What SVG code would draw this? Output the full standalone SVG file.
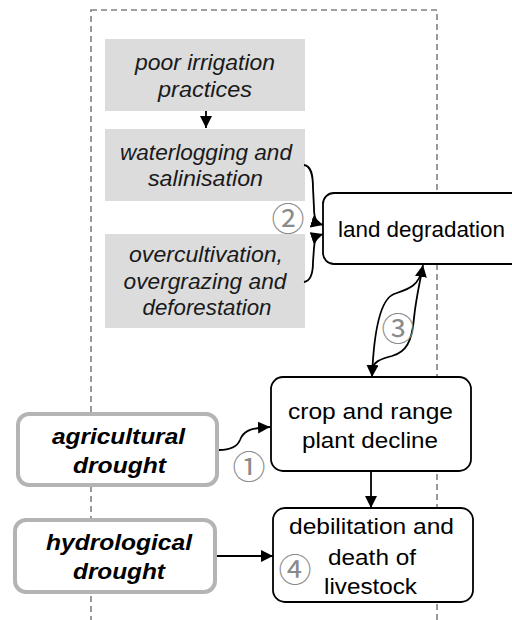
<svg xmlns="http://www.w3.org/2000/svg" width="512" height="620" viewBox="0 0 512 620">
  <style>
    .frame { fill: none; stroke: #808080; stroke-width: 1.6; stroke-dasharray: 6 4; }
    .cause { fill: #dcdcdc; stroke: none; }
    .effect { fill: #ffffff; stroke: #000000; stroke-width: 1.8; }
    .driver { fill: #ffffff; stroke: #b4b4b4; stroke-width: 4; }
    .it { font-family: "Liberation Sans", Arial, sans-serif; font-size: 22px; font-style: italic; fill: #1a1a1a; text-anchor: middle; }
    .bi { font-family: "Liberation Sans", Arial, sans-serif; font-size: 22px; font-style: italic; font-weight: bold; fill: #000; text-anchor: middle; }
    .rg { font-family: "Liberation Sans", Arial, sans-serif; font-size: 22px; fill: #000; text-anchor: middle; }
    .num { font-family: "Noto Sans CJK JP", "DejaVu Sans", sans-serif; font-size: 33px; fill: #8a8a8a; text-anchor: middle; }
    .conn { fill: none; stroke: #000; stroke-width: 1.8; }
  </style>
  <defs>
    <marker id="arrow" markerUnits="userSpaceOnUse" markerWidth="12" markerHeight="12" viewBox="0 0 10 10" refX="10" refY="5" orient="auto">
      <path d="M0,0 L10,5 L0,10 Z" fill="#000"/>
    </marker>
  </defs>

  <!-- dashed system boundary -->
  <rect class="frame" x="91" y="10" width="346" height="640"/>

  <g id="poor-irrigation">
    <rect class="cause" x="105" y="39" width="200" height="72"/>
    <text class="it" x="205" y="70" textLength="140" lengthAdjust="spacingAndGlyphs">poor irrigation</text>
    <text class="it" x="205" y="97" textLength="94" lengthAdjust="spacingAndGlyphs">practices</text>
  </g>

  <g id="waterlogging">
    <rect class="cause" x="105" y="129" width="200" height="72"/>
    <text class="it" x="206" y="160" textLength="172" lengthAdjust="spacingAndGlyphs">waterlogging and</text>
    <text class="it" x="205.5" y="186" textLength="115" lengthAdjust="spacingAndGlyphs">salinisation</text>
  </g>

  <g id="overcultivation">
    <rect class="cause" x="105" y="234" width="200" height="94"/>
    <text class="it" x="206" y="262" textLength="154" lengthAdjust="spacingAndGlyphs">overcultivation,</text>
    <text class="it" x="205" y="289" textLength="163" lengthAdjust="spacingAndGlyphs">overgrazing and</text>
    <text class="it" x="207" y="315" textLength="129" lengthAdjust="spacingAndGlyphs">deforestation</text>
  </g>

  <g id="land-degradation">
    <rect class="effect" x="323" y="193" width="210" height="71" rx="11"/>
    <text class="rg" x="421.5" y="237" textLength="167" lengthAdjust="spacingAndGlyphs">land degradation</text>
  </g>

  <g id="crop-decline">
    <rect class="effect" x="271" y="377" width="200" height="94" rx="12"/>
    <text class="rg" x="370.5" y="419" textLength="165" lengthAdjust="spacingAndGlyphs">crop and range</text>
    <text class="rg" x="370" y="448" textLength="136" lengthAdjust="spacingAndGlyphs">plant decline</text>
  </g>

  <g id="livestock">
    <rect class="effect" x="273" y="508" width="200" height="94" rx="12"/>
    <text class="rg" x="371.5" y="534" textLength="165" lengthAdjust="spacingAndGlyphs">debilitation and</text>
    <text class="rg" x="372" y="565" textLength="88" lengthAdjust="spacingAndGlyphs">death of</text>
    <text class="rg" x="370.5" y="594" textLength="93" lengthAdjust="spacingAndGlyphs">livestock</text>
  </g>

  <g id="agricultural-drought">
    <rect class="driver" x="18" y="414" width="199" height="71" rx="11"/>
    <text class="bi" x="118.5" y="444" textLength="133" lengthAdjust="spacingAndGlyphs">agricultural</text>
    <text class="bi" x="119.5" y="473" textLength="93" lengthAdjust="spacingAndGlyphs">drought</text>
  </g>

  <g id="hydrological-drought">
    <rect class="driver" x="15" y="520" width="200" height="72" rx="11"/>
    <text class="bi" x="119" y="550" textLength="146" lengthAdjust="spacingAndGlyphs">hydrological</text>
    <text class="bi" x="119" y="579" textLength="92" lengthAdjust="spacingAndGlyphs">drought</text>
  </g>

  <g id="connectors">
    <path class="conn" d="M206,111 L206,128" marker-end="url(#arrow)"/>
    <path class="conn" d="M304,165 C311,166 313,174 313,188 L314,208 C314,218 316,223 323,225" marker-end="url(#arrow)"/>
    <path class="conn" d="M304,282 C311,281 313,273 313,262 L314,248 C314,240 317,236 323,234" marker-end="url(#arrow)"/>
    <path class="conn" d="M422,268 C420,287 405,290 394,294 C381,299 374,328 372,377" marker-end="url(#arrow)"/>
    <path class="conn" d="M372,370 C373,362 380,359 392,356 C406,352 412,342 414,318 C416,298 420,282 423,265" marker-end="url(#arrow)"/>
    <path class="conn" d="M219,450 C231,450 237,447 240,440 C243,432 248,428 270,427" marker-end="url(#arrow)"/>
    <path class="conn" d="M371,471 L371,508" marker-end="url(#arrow)"/>
    <path class="conn" d="M217,556 L273,556" marker-end="url(#arrow)"/>
  </g>

  <g id="labels">
    <text class="num" x="288" y="231">②</text>
    <text class="num" x="398" y="341">③</text>
    <text class="num" x="249" y="479">①</text>
    <text class="num" x="295" y="582">④</text>
  </g>
</svg>
